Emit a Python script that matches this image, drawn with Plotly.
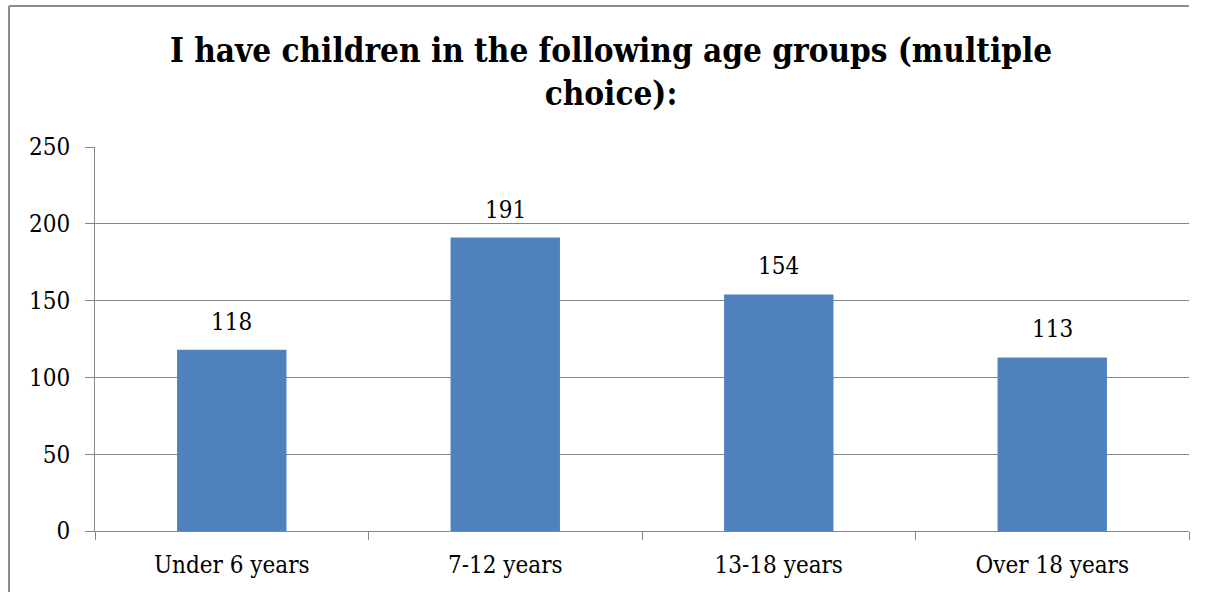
import plotly.graph_objects as go

categories = ["Under 6 years", "7-12 years", "13-18 years", "Over 18 years"]
counts = [118, 191, 154, 113]
y_ticks = [0, 50, 100, 150, 200, 250]

W, H = 1207, 592
L, R, T, B = 95, 18, 147, 61
pw, ph = W - L - R, H - T - B

def px_x(x):
    return (x - L) / pw

def px_y(y):
    return (H - B - y) / ph

font_family = "DejaVu Serif Condensed, DejaVu Serif"
grid_color = "#868686"

fig = go.Figure(go.Bar(
    x=categories,
    y=counts,
    width=0.4,
    marker=dict(color="#4F81BD", line=dict(width=0)),
    hoverinfo="x+y",
))

# value labels above each bar
for cat, val in zip(categories, counts):
    fig.add_annotation(
        x=cat, y=val, text=str(val), showarrow=False,
        xanchor="center", yanchor="bottom", yshift=12,
        font=dict(family=font_family, size=24, color="#000000"),
    )

fig.update_layout(
    width=W, height=H,
    margin=dict(l=L, r=R, t=T, b=B),
    paper_bgcolor="white",
    plot_bgcolor="white",
    showlegend=False,
    title=dict(
        text="<b>I have children in the following age groups (multiple<br>choice):</b>",
        x=611 / W,
        xanchor="center",
        y=1 - 62 / H,
        yanchor="top",
        font=dict(family=font_family, size=33, color="#000000"),
    ),
    xaxis=dict(
        tickson="boundaries",
        ticks="outside",
        ticklen=8,
        tickcolor=grid_color,
        showline=True,
        linecolor=grid_color,
        linewidth=1,
        showgrid=False,
        ticklabelstandoff=12,
        tickfont=dict(family=font_family, size=24, color="#000000"),
    ),
    yaxis=dict(
        range=[0, 250],
        tickvals=y_ticks,
        ticks="outside",
        ticklen=9,
        tickcolor=grid_color,
        showline=True,
        linecolor=grid_color,
        linewidth=1,
        showgrid=True,
        gridcolor=grid_color,
        gridwidth=1,
        zeroline=False,
        ticklabelstandoff=10,
        tickfont=dict(family=font_family, size=24, color="#000000"),
    ),
    bargap=0.6,
    shapes=[
        dict(type="line", xref="paper", yref="paper",
             x0=px_x(9), x1=px_x(1189), y0=px_y(6), y1=px_y(6),
             line=dict(color="#8c8c8c", width=2)),
        dict(type="line", xref="paper", yref="paper",
             x0=px_x(9), x1=px_x(9), y0=px_y(6), y1=px_y(600),
             line=dict(color="#8c8c8c", width=2)),
    ],
)

fig.write_html("out.html")
